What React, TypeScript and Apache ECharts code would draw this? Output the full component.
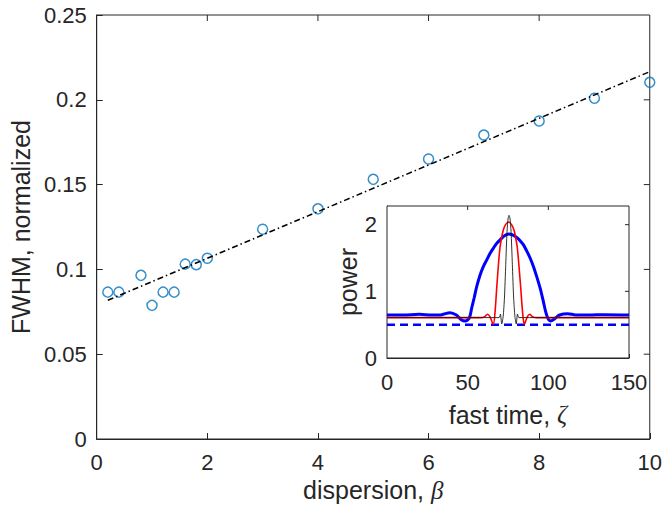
import React, { useEffect, useRef } from "react";
import * as echarts from "echarts";

// Main plot data
const beta = [0.2, 0.4, 0.8, 1.0, 1.2, 1.4, 1.6, 1.8, 2, 3, 4, 5, 6, 7, 8, 9, 10];
const fwhm = [0.0866, 0.0866, 0.0965, 0.0788, 0.0866, 0.0866, 0.1031, 0.1028, 0.1066, 0.1237, 0.1357, 0.1531, 0.1651, 0.1792, 0.1875, 0.2009, 0.2103];
const fitBeta = [0.2, 10];
const fitFwhm = [0.0818, 0.2166];

// Inset data: fast time zeta vs power
const blueZeta = [0, 10, 20, 28, 34, 39, 43, 46, 48.5, 51, 52.5, 54, 55.6, 57.5, 59.7, 62, 63.9, 66, 68, 70, 72.1, 74, 75.6, 77.5, 80.4, 82.5, 84.5, 86.5, 88.7, 90.8, 92.8, 95, 96.9, 98.5, 100, 101.5, 104, 107, 112, 117, 125, 135, 150];
const bluePower = [0.645, 0.645, 0.655, 0.645, 0.65, 0.68, 0.645, 0.575, 0.556, 0.6, 0.75, 0.9, 1.07, 1.23, 1.37, 1.48, 1.57, 1.65, 1.72, 1.77, 1.82, 1.85, 1.86, 1.85, 1.81, 1.76, 1.7, 1.61, 1.5, 1.37, 1.22, 1.04, 0.85, 0.68, 0.58, 0.556, 0.59, 0.645, 0.665, 0.645, 0.645, 0.65, 0.645];

const redZeta = [0, 58, 60.5, 62.2, 63.8, 65.9, 67, 68, 69, 70, 71, 72.1, 73.5, 75.4, 77.2, 78.7, 79.8, 80.8, 81.8, 82.9, 84, 85.1, 87, 88.5, 90.2, 93, 150];
const redPower = [0.606, 0.606, 0.62, 0.657, 0.62, 0.506, 0.7, 1.05, 1.38, 1.65, 1.8, 1.92, 2.0, 2.04, 2.0, 1.92, 1.8, 1.65, 1.38, 1.05, 0.7, 0.506, 0.62, 0.657, 0.62, 0.606, 0.606];

const blackZeta = [0, 69.5, 70.3, 71.1, 72, 72.8, 73.6, 74.4, 75.1, 75.6, 76.2, 76.9, 77.7, 78.5, 79.3, 80.1, 80.9, 81.7, 150];
const blackPower = [0.606, 0.606, 0.66, 0.51, 0.62, 0.9, 1.4, 1.9, 2.1, 2.14, 2.1, 1.9, 1.4, 0.9, 0.62, 0.51, 0.66, 0.606, 0.606];

const dashZeta = [0, 150];
const dashPower = [0.5, 0.5];

const xTicksMain = { min: 0, max: 10, interval: 2 };
const yTicksMain = { min: 0, max: 0.25, interval: 0.05 };
const xTicksInset = { min: 0, max: 150, interval: 50 };
const yTicksInset = { min: 0, max: 2.28, interval: 1 };

const AX = "#262626";
const FONT = "Liberation Sans, Arial, Helvetica, sans-serif";
const TICK_FS = 22;
const LABEL_FS = 25;

const zip = (a: number[], b: number[]) => a.map((v, i) => [v, b[i]]);
const interiorTicks = (t: { min: number; max: number; interval: number }) => {
  const out: number[] = [];
  for (let k = 1; t.min + k * t.interval < t.max - 1e-9; k++) out.push(+(t.min + k * t.interval).toFixed(10));
  return out;
};

export default function App() {
  const ref = useRef<HTMLDivElement>(null);
  useEffect(() => {
    document.body.style.margin = "0";
    document.body.style.overflow = "hidden";
    const chart = echarts.init(ref.current!, undefined, { renderer: "svg" });

    const mkAxis = (grid: number, t: any, labels: boolean, tickLen: number, extra: any = {}) => ({
      type: "value",
      gridIndex: grid,
      min: t.min,
      max: t.max,
      interval: t.interval,
      axisLine: { show: true, onZero: false, lineStyle: { color: AX, width: 1 } },
      axisTick: { show: true, inside: true, length: tickLen, lineStyle: { color: AX, width: 1 } },
      axisLabel: { show: labels, color: AX, fontSize: TICK_FS, fontFamily: FONT, margin: 12 },
      splitLine: { show: false },
      ...extra,
    });

    const italic = { fontStyle: "italic", fontFamily: "Liberation Serif, Times New Roman, serif", fontSize: LABEL_FS, color: AX };
    const intOnly = (v: number) => (Math.abs(v - Math.round(v)) < 1e-9 ? String(Math.round(v)) : "");

    // mirrored tick marks on the top and right edges (box "on")
    const topTicks = (axisIdx: number, t: any, yMax: number, len: number) => ({
      type: "custom",
      xAxisIndex: axisIdx,
      yAxisIndex: axisIdx,
      silent: true,
      z: 9,
      data: interiorTicks(t).map((v) => [v, yMax]),
      renderItem: (_p: any, api: any) => {
        const c = api.coord([api.value(0), api.value(1)]);
        return { type: "line", shape: { x1: c[0], y1: c[1], x2: c[0], y2: c[1] + len }, style: { stroke: AX, lineWidth: 1 } };
      },
    });
    const rightTicks = (axisIdx: number, t: any, xMax: number, len: number) => ({
      type: "custom",
      xAxisIndex: axisIdx,
      yAxisIndex: axisIdx,
      silent: true,
      z: 9,
      data: interiorTicks(t).map((v) => [xMax, v]),
      renderItem: (_p: any, api: any) => {
        const c = api.coord([api.value(0), api.value(1)]);
        return { type: "line", shape: { x1: c[0], y1: c[1], x2: c[0] - len, y2: c[1] }, style: { stroke: AX, lineWidth: 1 } };
      },
    });

    const option: any = {
      animation: false,
      backgroundColor: "#ffffff",
      textStyle: { fontFamily: FONT },
      grid: [
        { left: 96, top: 15, width: 556, height: 424, show: true, borderWidth: 1, borderColor: AX, backgroundColor: "rgba(0,0,0,0)" },
        { left: 387, top: 206, width: 242, height: 152, show: true, backgroundColor: "#ffffff", borderWidth: 1, borderColor: AX, z: 5 },
      ],
      xAxis: [
        mkAxis(0, xTicksMain, true, 6, {
          name: "dispersion, {i|β}",
          nameLocation: "middle",
          nameGap: 38,
          nameTextStyle: { color: AX, fontSize: LABEL_FS, fontFamily: FONT, rich: { i: italic } },
        }),
        mkAxis(1, xTicksInset, true, 4, {
          name: "fast time, {i|ζ}",
          nameLocation: "middle",
          nameGap: 44,
          axisLabel: { show: true, color: AX, fontSize: TICK_FS, fontFamily: FONT, margin: 13 },
          nameTextStyle: { color: AX, fontSize: LABEL_FS, fontFamily: FONT, rich: { i: italic } },
        }),
      ],
      yAxis: [
        mkAxis(0, yTicksMain, true, 6, {
          name: "FWHM, normalized",
          nameLocation: "middle",
          nameGap: 60,
          axisLabel: { show: true, color: AX, fontSize: TICK_FS, fontFamily: FONT, margin: 10 },
          nameTextStyle: { color: AX, fontSize: LABEL_FS, fontFamily: FONT },
        }),
        mkAxis(1, yTicksInset, true, 4, {
          name: "power",
          nameLocation: "middle",
          nameGap: 27,
          axisLabel: { show: true, color: AX, fontSize: TICK_FS, fontFamily: FONT, margin: 10, formatter: intOnly },
          nameTextStyle: { color: AX, fontSize: LABEL_FS, fontFamily: FONT },
        }),
      ],
      series: [
        {
          type: "scatter",
          xAxisIndex: 0,
          yAxisIndex: 0,
          data: zip(beta, fwhm),
          symbol: "circle",
          symbolSize: 10,
          itemStyle: { color: "rgba(0,0,0,0)", borderColor: "#0072BD", borderWidth: 1.5 },
          z: 3,
        },
        {
          type: "line",
          xAxisIndex: 0,
          yAxisIndex: 0,
          data: zip(fitBeta, fitFwhm),
          showSymbol: false,
          lineStyle: { color: "#000000", width: 1.5, type: [6, 3, 1.5, 3] },
          z: 4,
        },
        topTicks(0, xTicksMain, yTicksMain.max, 6),
        rightTicks(0, yTicksMain, xTicksMain.max, 6),
        topTicks(1, xTicksInset, yTicksInset.max, 4),
        rightTicks(1, { ...yTicksInset, max: 2 + 1e-6 }, xTicksInset.max, 4),
        {
          type: "line",
          xAxisIndex: 1,
          yAxisIndex: 1,
          data: zip(dashZeta, dashPower),
          showSymbol: false,
          lineStyle: { color: "#0000FF", width: 2.5, type: [8, 5] },
          z: 6,
        },
        {
          type: "line",
          xAxisIndex: 1,
          yAxisIndex: 1,
          data: zip(blueZeta, bluePower),
          showSymbol: false,
          smooth: 0.3,
          lineStyle: { color: "#0000FF", width: 3 },
          z: 6,
        },
        {
          type: "line",
          xAxisIndex: 1,
          yAxisIndex: 1,
          data: zip(redZeta, redPower),
          showSymbol: false,
          smooth: 0.3,
          lineStyle: { color: "#FF0000", width: 1.6 },
          z: 7,
        },
        {
          type: "line",
          xAxisIndex: 1,
          yAxisIndex: 1,
          data: zip(blackZeta, blackPower),
          showSymbol: false,
          smooth: 0.2,
          lineStyle: { color: "#1a1a1a", width: 0.9 },
          z: 8,
        },
      ],
    };
    chart.setOption(option);
    return () => chart.dispose();
  }, []);
  return <div ref={ref} style={{ width: 665, height: 515 }} />;
}
